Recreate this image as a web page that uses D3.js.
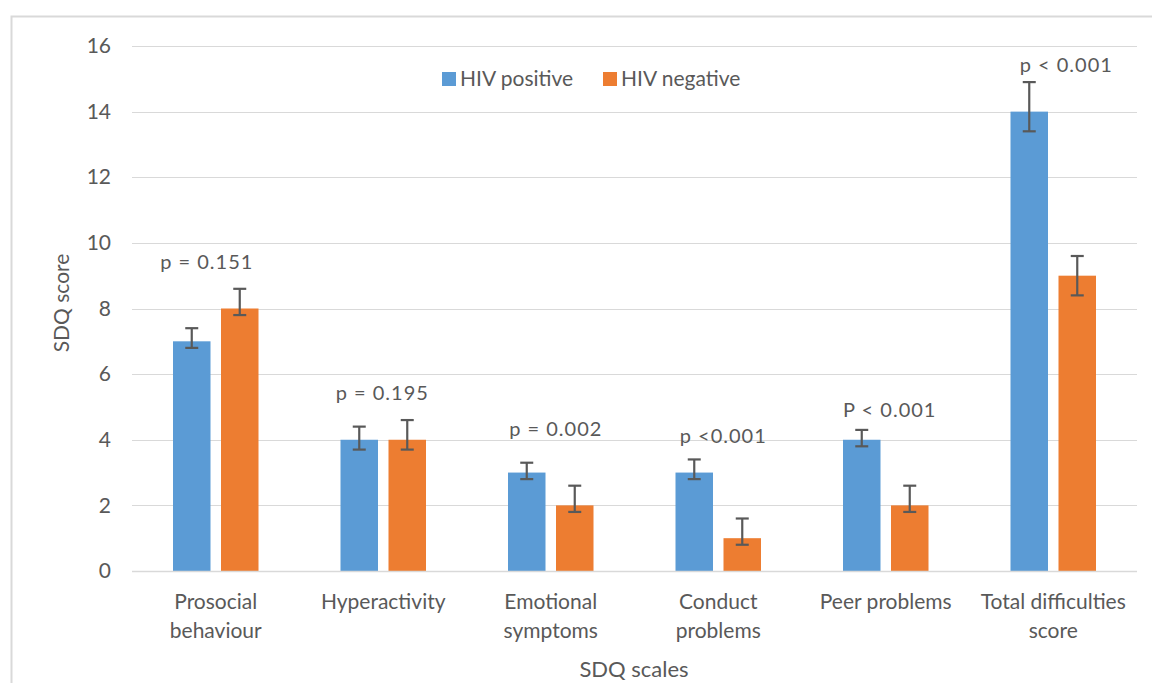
<!DOCTYPE html>
<html>
<head>
<meta charset="utf-8">
<script src="https://cdn.jsdelivr.net/npm/d3@7"></script>
<style>
  body { margin: 0; background: #fff; }
  text { font-family: Lato, "Open Sans", sans-serif; fill: #595959; }
</style>
</head>
<body>
<div id="chart-area"></div>
<script>

var width = 1152,
    height = 683;

// data
var categories = [["Prosocial", "behaviour"], ["Hyperactivity"], ["Emotional", "symptoms"],
                  ["Conduct", "problems"], ["Peer problems"], ["Total difficulties", "score"]];
var series = ["HIV positive", "HIV negative"];
var hivPos = [7, 4, 3, 3, 4, 14];
var hivNeg = [8, 4, 2, 1, 2, 9];
var posHigh = [7.4, 4.4, 3.3, 3.4, 4.3, 14.9];
var posLow  = [6.8, 3.7, 2.8, 2.8, 3.8, 13.4];
var negHigh = [8.6, 4.6, 2.6, 1.6, 2.6, 9.6];
var negLow  = [7.8, 3.7, 1.8, 0.8, 1.8, 8.4];
var pLabels = ["p = 0.151", "p = 0.195", "p = 0.002", "p <0.001", "P < 0.001", "p < 0.001"];
var pLabelAt = [9.2, 5.2, 4.1, 3.9, 4.7, 15.2];
var yTicks = [0, 2, 4, 6, 8, 10, 12, 14, 16];

var colors = ["#5B9BD5", "#ED7D31"];
var labelNudge = [-9, -1, 5, 5, 4, 13];

var svg = d3.select("#chart-area").append("svg")
    .attr("width", width)
    .attr("height", height);

// outer chart border
svg.append("rect")
    .attr("x", 11.5).attr("y", 16.5)
    .attr("width", 1160).attr("height", 700)
    .attr("fill", "none")
    .attr("stroke", "#D9D9D9")
    .attr("stroke-width", 2);

var x = d3.scaleBand()
    .domain(d3.range(categories.length))
    .range([132, 1137]);

var y = d3.scaleLinear()
    .domain([0, 16])
    .range([571, 46]);

var barW = 37.5, gap = 10.5;

// gridlines
svg.selectAll(".grid")
    .data(yTicks)
    .enter()
    .append("line")
    .attr("class", "grid")
    .attr("x1", 132).attr("x2", 1137)
    .attr("y1", d => Math.round(y(d)) + 0.5)
    .attr("y2", d => Math.round(y(d)) + 0.5)
    .style("stroke", "#D9D9D9")
    .style("stroke-width", 1);

// y axis labels
var yAxis = svg.append("g")
    .attr("transform", "translate(122,0)")
    .call(d3.axisLeft(y).tickValues(yTicks).tickSize(0).tickPadding(11));
yAxis.select(".domain").remove();
yAxis.selectAll("text")
    .style("font-size", "21px")
    .style("font-family", "Lato, sans-serif")
    .attr("fill", "#595959");

var data = categories.map(function(c, i) {
  return [
    { s: 0, i: i, v: hivPos[i], hi: posHigh[i], lo: posLow[i] },
    { s: 1, i: i, v: hivNeg[i], hi: negHigh[i], lo: negLow[i] }
  ];
});
var flat = [].concat.apply([], data);

function barX(d) {
  var c = x(d.i) + x.bandwidth() / 2;
  return d.s === 0 ? c - gap / 2 - barW : c + gap / 2;
}

svg.selectAll(".bar")
    .data(flat)
    .enter()
    .append("rect")
    .attr("class", "bar")
    .attr("x", barX)
    .attr("width", barW)
    .attr("y", d => y(d.v))
    .attr("height", d => y(0) - y(d.v))
    .style("fill", d => colors[d.s]);

// baseline
svg.append("line")
    .attr("x1", 132).attr("x2", 1137)
    .attr("y1", Math.round(y(0)) + 0.5).attr("y2", Math.round(y(0)) + 0.5)
    .style("stroke", "#D9D9D9")
    .style("stroke-width", 1.5);

// error bars
var err = svg.selectAll(".err")
    .data(flat)
    .enter()
    .append("g")
    .attr("class", "err")
    .style("stroke", "#595959")
    .style("stroke-width", 2.2);

err.append("line")
    .attr("x1", d => barX(d) + barW / 2).attr("x2", d => barX(d) + barW / 2)
    .attr("y1", d => y(d.hi)).attr("y2", d => y(d.lo));
err.append("line")
    .attr("x1", d => barX(d) + barW / 2 - 6.5).attr("x2", d => barX(d) + barW / 2 + 6.5)
    .attr("y1", d => y(d.hi)).attr("y2", d => y(d.hi));
err.append("line")
    .attr("x1", d => barX(d) + barW / 2 - 6.5).attr("x2", d => barX(d) + barW / 2 + 6.5)
    .attr("y1", d => y(d.lo)).attr("y2", d => y(d.lo));

// p-value labels
svg.selectAll(".plabel")
    .data(pLabels)
    .enter()
    .append("text")
    .attr("class", "plabel")
    .attr("x", (d, i) => x(i) + x.bandwidth() / 2 + labelNudge[i])
    .attr("y", (d, i) => y(pLabelAt[i]))
    .attr("text-anchor", "middle")
    .style("font-size", "20px")
    .style("letter-spacing", "1px")
    .text(d => d);

// category labels
var cat = svg.selectAll(".cat")
    .data(categories)
    .enter()
    .append("text")
    .attr("class", "cat")
    .attr("text-anchor", "middle")
    .attr("x", (d, i) => x(i) + x.bandwidth() / 2)
    .attr("y", 609)
    .style("font-size", "21px");
cat.selectAll("tspan")
    .data(d => d)
    .enter()
    .append("tspan")
    .attr("x", function() { return d3.select(this.parentNode).attr("x"); })
    .attr("dy", (d, i) => i === 0 ? 0 : 29)
    .text(d => d);

// axis titles
svg.append("text")
    .attr("x", 634).attr("y", 677)
    .attr("text-anchor", "middle")
    .style("font-size", "22px")
    .text("SDQ scales");

svg.append("text")
    .attr("transform", "translate(69,303) rotate(-90)")
    .attr("text-anchor", "middle")
    .style("font-size", "21px")
    .text("SDQ score");

// legend
var legend = svg.selectAll(".legend")
    .data(series)
    .enter()
    .append("g")
    .attr("class", "legend")
    .attr("transform", (d, i) => "translate(" + (442 + i * 161) + ",72)");
legend.append("rect")
    .attr("width", 14).attr("height", 14)
    .style("fill", (d, i) => colors[i]);
legend.append("text")
    .attr("x", 18).attr("y", 14)
    .style("font-size", "21px")
    .text(d => d);

</script>
</body>
</html>
